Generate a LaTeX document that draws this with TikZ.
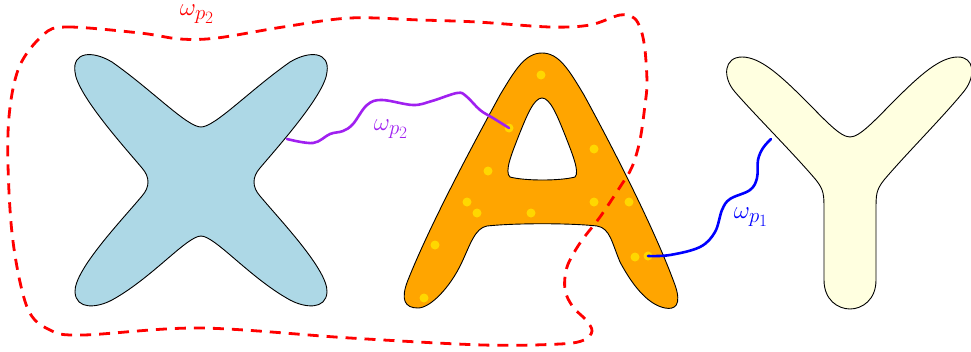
\documentclass[tikz,border=0pt]{standalone}
\definecolor{xblue}{RGB}{173,216,230}
\definecolor{aorange}{RGB}{255,165,0}
\definecolor{ylight}{RGB}{255,255,224}
\definecolor{dotgold}{RGB}{255,215,0}
\definecolor{wpurple}{RGB}{160,32,240}
\tikzset{
  letter/.style={draw=black,line width=0.9pt},
  dot/.style={fill=dotgold},
  pathline/.style={line width=2.6pt,line cap=round},
  boundary/.style={draw=red,line width=2.8pt,dash pattern=on 11pt off 8pt},
  lab/.style={font=\Huge,inner sep=0pt}
}
\begin{document}
\begin{tikzpicture}[x=1pt,y=-1pt]
\useasboundingbox (0,0) rectangle (971,351);
% X
\path[letter,fill=xblue] (201,127) .. controls (215,127) and (250,90) .. (290,62)
  .. controls (310,50) and (330,52) .. (327,72)
  .. controls (325,95) and (275,150) .. (260,168)
  .. controls (252,177) and (252,187) .. (260,196)
  .. controls (280,220) and (328,270) .. (327,292)
  .. controls (326,310) and (305,308) .. (290,300)
  .. controls (250,278) and (215,236) .. (201,236)
  .. controls (187,236) and (152,278) .. (112,300)
  .. controls (97,308) and (76,310) .. (75,292)
  .. controls (74,270) and (122,220) .. (142,196)
  .. controls (150,187) and (150,177) .. (142,168)
  .. controls (127,150) and (77,95) .. (75,72)
  .. controls (72,52) and (92,50) .. (112,62)
  .. controls (152,90) and (187,127) .. (201,127) -- cycle;
% A
\path[letter,fill=aorange,even odd rule] (542,53) .. controls (559,53) and (569,70) .. (584,95)
  .. controls (614,150) and (655,230) .. (675,285)
  .. controls (682,305) and (675,310) .. (665,308)
  .. controls (650,305) and (635,290) .. (620,262)
  .. controls (612,243) and (610,228) .. (597,226)
  .. controls (570,223) and (515,223) .. (487,226)
  .. controls (475,228) and (470,245) .. (462,262)
  .. controls (450,288) and (430,308) .. (418,308)
  .. controls (405,308) and (400,300) .. (408,280)
  .. controls (430,225) and (470,150) .. (500,95)
  .. controls (515,70) and (525,53) .. (542,53) -- cycle
  (542,98) .. controls (550,98) and (557,115) .. (565,135)
  .. controls (572,153) and (580,172) .. (575,177)
  .. controls (560,181) and (525,181) .. (510,177)
  .. controls (504,172) and (512,153) .. (519,135)
  .. controls (527,115) and (534,98) .. (542,98) -- cycle;
% Y
\path[letter,fill=ylight] (850,137) .. controls (860,137) and (875,120) .. (895,100)
  .. controls (920,75) and (940,57) .. (958,57)
  .. controls (974,57) and (976,75) .. (965,90)
  .. controls (945,115) and (905,155) .. (884,180)
  .. controls (876,190) and (876,195) .. (876,210) -- (876,280)
  .. controls (876,300) and (862,309) .. (850,309)
  .. controls (838,309) and (824,300) .. (824,280) -- (824,210)
  .. controls (824,195) and (824,190) .. (816,180)
  .. controls (795,155) and (755,115) .. (735,92)
  .. controls (722,77) and (724,57) .. (742,57)
  .. controls (760,57) and (780,75) .. (805,100)
  .. controls (825,120) and (840,137) .. (850,137) -- cycle;
% dots
\foreach \p in {(541,75),(509,128),(594,149),(488,171),(467,202),(477,213),(531,213),(594,202),(629,202),(435,245),(635,257),(648,256),(424,298)}
  \fill[dot] \p circle (4.5);
% purple path
\draw[pathline,wpurple] plot[smooth,tension=0.6] coordinates {(287,139) (313,143) (330,134) (343,131) (353,124) (367,105) (382,100) (413,105) (432,101) (457,93) (466,96) (480,110) (493,118) (509,128)};
\node[lab,text=wpurple] (lp) at (391,129) {$\omega_{p_2}$};
% blue path
\draw[pathline,blue] plot[smooth,tension=0.6] coordinates {(648,256) (670,255) (700,247) (715,232) (722,210) (730,199) (750,190) (757,178) (758,160) (763,148) (771,139)};
\node[lab,text=blue] (lb) at (751,217) {$\omega_{p_1}$};
% red dashed boundary
\draw[boundary] plot[smooth cycle,tension=0.55] coordinates {(43,35) (67,27) (140,33) (180,39) (217,38) (283,27) (350,18) (420,20) (477,22) (550,27) (590,25) (620,15) (634,18) (641,30) (645,50) (647,83) (645,105) (640,140) (632,167) (620,187) (600,217) (580,243) (567,267) (565,290) (573,307) (586,320) (592,331) (584,340) (560,344) (483,345) (350,338) (200,328) (83,335) (50,330) (27,307) (12,233) (8,133) (18,70)};
\node[lab,text=red] (lr) at (197,14) {$\omega_{p_2}$};
\end{tikzpicture}
\end{document}
